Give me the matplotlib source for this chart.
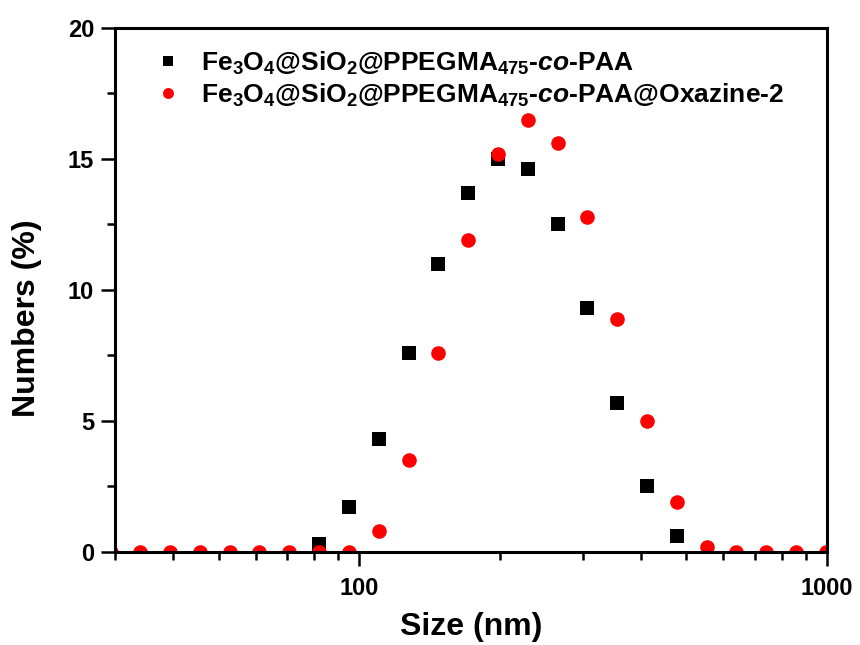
import matplotlib
matplotlib.use("Agg")
import matplotlib.pyplot as plt
from matplotlib.ticker import LogLocator, MultipleLocator, FuncFormatter, NullFormatter

plt.rcParams['font.family'] = ['Liberation Sans', 'DejaVu Sans']
plt.rcParams['font.weight'] = 'bold'
plt.rcParams['mathtext.fontset'] = 'custom'
plt.rcParams['mathtext.rm'] = 'Liberation Sans:bold'
plt.rcParams['mathtext.it'] = 'Liberation Sans:italic:bold'
plt.rcParams['mathtext.bf'] = 'Liberation Sans:bold'

# size bins (nm)
size_nm = [29.4, 34.0, 39.4, 45.6, 52.8, 61.1, 70.8, 82.0, 95.0, 110.0, 127.4, 147.5,
           170.8, 197.8, 229.1, 265.3, 307.3, 355.9, 412.1, 477.3, 552.7, 640.1,
           741.3, 858.5, 994.3]

# Fe3O4@SiO2@PPEGMA475-co-PAA (only the visible points)
size_black = [82.0, 95.0, 110.0, 127.4, 147.5, 170.8, 197.8, 229.1, 265.3, 307.3,
              355.9, 412.1, 477.3]
num_black = [0.3, 1.7, 4.3, 7.6, 11.0, 13.7, 15.0, 14.6, 12.5, 9.3, 5.7, 2.5, 0.6]

# Fe3O4@SiO2@PPEGMA475-co-PAA@Oxazine-2
num_red = [0, 0, 0, 0, 0, 0, 0, 0, 0, 0.8, 3.5, 7.6, 11.9, 15.2, 16.5, 15.6, 12.8,
           8.9, 5.0, 1.9, 0.2, 0, 0, 0, 0]

label_black = r'Fe$_3$O$_4$@SiO$_2$@PPEGMA$_{475}$-$\mathit{co}$-PAA'
label_red = r'Fe$_3$O$_4$@SiO$_2$@PPEGMA$_{475}$-$\mathit{co}$-PAA@Oxazine-2'

fig = plt.figure(figsize=(8.6, 6.45), dpi=100)
ax = fig.add_axes([0.1337, 0.1442, 0.8279, 0.8124])

ax.plot(size_black, num_black, linestyle='none', marker='s', markersize=9.5,
        markeredgewidth=0, color='black', label=label_black)
ax.plot(size_nm, num_red, linestyle='none', marker='o', markersize=10.5,
        markeredgewidth=0, color='red', label=label_red)

ax.set_xscale('log')
ax.set_xlim(30, 1000)
ax.set_ylim(0, 20)

ax.xaxis.set_major_locator(LogLocator(base=10))
ax.xaxis.set_minor_locator(LogLocator(base=10, subs=range(2, 10)))
ax.xaxis.set_major_formatter(FuncFormatter(lambda v, p: '%d' % v))
ax.xaxis.set_minor_formatter(NullFormatter())
ax.yaxis.set_major_locator(MultipleLocator(5))
ax.yaxis.set_minor_locator(MultipleLocator(2.5))

for s in ax.spines.values():
    s.set_linewidth(2.2)
ax.tick_params(which='major', direction='out', length=10, width=1.8,
               labelsize=17)
ax.tick_params(which='minor', direction='out', length=5.5, width=1.8)
ax.tick_params(axis='x', which='major', pad=8)
ax.tick_params(axis='y', which='major', pad=5)

ax.set_xlabel('Size (nm)', fontsize=23, fontweight='bold', va='center')
ax.set_ylabel('Numbers (%)', fontsize=23, fontweight='bold', va='center')
ax.xaxis.set_label_coords(0.5, -0.144)
ax.yaxis.set_label_coords(-0.124, 0.447)

ax.legend(loc='upper left', bbox_to_anchor=(0.059, 0.959), frameon=False,
          fontsize=19, handlelength=0.8, handletextpad=0.85, borderpad=0,
          borderaxespad=0, labelspacing=0.18, markerscale=0.75)

fig.savefig('out.png', dpi=100)
